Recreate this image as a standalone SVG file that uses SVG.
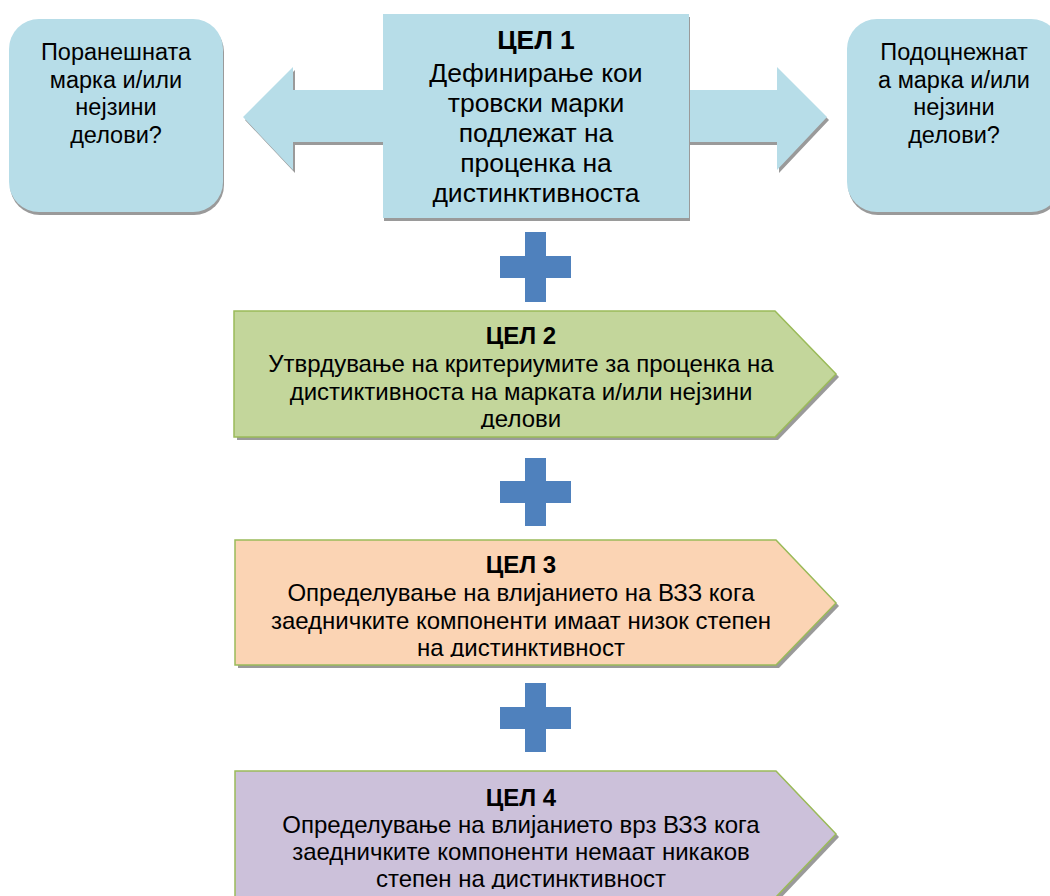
<svg xmlns="http://www.w3.org/2000/svg" width="1050" height="896" viewBox="0 0 1050 896">
<style>
.t{font-family:"Liberation Sans",Arial,sans-serif;font-size:24px;fill:#000;text-anchor:middle}
.s{font-size:23.5px}
.c{font-size:26.5px}
.b{font-weight:bold}
.sh{fill:#9a9a9a}
.blue{fill:#b7dde8}
.plus{fill:#4f81bd}
.pent{stroke:#9bbb59;stroke-width:1.5}
</style>
<defs>
<clipPath id="c2"><rect x="230" y="311" width="610" height="118"/></clipPath>
<clipPath id="c3"><rect x="230" y="540" width="610" height="117"/></clipPath>
<clipPath id="c4"><rect x="230" y="771" width="610" height="118"/></clipPath>
</defs>
<rect width="1050" height="896" fill="#fff"/>
<g id="connectors">
<path class="sh" d="M245,120 L295,70 L295,93 L779,93 L779,70 L829,120 L779,173 L779,145 L295,145 L295,173 Z"/>
<path class="blue" d="M243,117 L293,67 L293,90 L777,90 L777,67 L827,117 L777,170 L777,142 L293,142 L293,170 Z"/>
<g id="plus1"><rect class="plus" x="525" y="232" width="21" height="70"/><rect class="plus" x="500" y="256" width="71" height="22"/></g>
<g id="plus2"><rect class="plus" x="525" y="458" width="21" height="68"/><rect class="plus" x="500" y="481" width="71" height="22"/></g>
<g id="plus3"><rect class="plus" x="525" y="683" width="21" height="69"/><rect class="plus" x="500" y="707" width="71" height="22"/></g>
</g>
<g id="left">
<rect class="sh" x="10" y="22" width="214" height="193" rx="30"/>
<rect class="blue" x="9" y="19" width="214" height="193" rx="30"/>
<text class="t s"><tspan x="116" y="60">Поранешната</tspan><tspan x="116" y="87.5">марка и/или</tspan><tspan x="116" y="115">нејзини</tspan><tspan x="116" y="142.5">делови?</tspan></text>
</g>
<g id="right">
<rect class="sh" x="848" y="22" width="214" height="193" rx="30"/>
<rect class="blue" x="847" y="19" width="214" height="193" rx="30"/>
<text class="t s"><tspan x="954" y="60">Подоцнежнат</tspan><tspan x="954" y="87.5">а марка и/или</tspan><tspan x="954" y="115">нејзини</tspan><tspan x="954" y="142.5">делови?</tspan></text>
</g>
<g id="goal1">
<rect class="sh" x="384" y="17" width="306" height="204"/>
<rect class="blue" x="383" y="14" width="306" height="204"/>
<text class="t c"><tspan class="b" x="536" y="49">ЦЕЛ 1</tspan><tspan x="536" y="82">Дефинирање кои</tspan><tspan x="536" y="112">тровски марки</tspan><tspan x="536" y="142">подлежат на</tspan><tspan x="536" y="172">проценка на</tspan><tspan x="536" y="202">дистинктивноста</tspan></text>
</g>
<g id="goal2">
<path class="sh" d="M237,314 L778,314 L839,377 L778,440 L237,440 Z"/>
<path class="pent" fill="#c3d69b" d="M234,311 L775,311 L836,374 L775,437 L234,437 Z"/>
<text class="t" clip-path="url(#c2)"><tspan class="b" x="521" y="344">ЦЕЛ 2</tspan><tspan x="521" y="372">Утврдување на критериумите за проценка на</tspan><tspan x="521" y="400">дистиктивноста на марката и/или нејзини</tspan><tspan x="521" y="427">делови</tspan></text>
</g>
<g id="goal3">
<path class="sh" d="M238,543 L779,543 L839,606 L779,668 L238,668 Z"/>
<path class="pent" fill="#fbd4b4" d="M235,540 L776,540 L836,603 L776,665 L235,665 Z"/>
<text class="t" clip-path="url(#c3)"><tspan class="b" x="521" y="573">ЦЕЛ 3</tspan><tspan x="521" y="601">Определување на влијанието на ВЗЗ кога</tspan><tspan x="521" y="629">заедничките компоненти имаат низок степен</tspan><tspan x="521" y="656">на дистинктивност</tspan></text>
</g>
<g id="goal4">
<path class="sh" d="M238,774 L779,774 L839,837 L779,900 L238,900 Z"/>
<path class="pent" fill="#ccc1da" d="M235,771 L776,771 L836,834 L776,897 L235,897 Z"/>
<text class="t" clip-path="url(#c4)"><tspan class="b" x="521" y="806">ЦЕЛ 4</tspan><tspan x="521" y="833">Определување на влијанието врз ВЗЗ кога</tspan><tspan x="521" y="860">заедничките компоненти немаат никаков</tspan><tspan x="521" y="887">степен на дистинктивност</tspan></text>
</g>
</svg>
